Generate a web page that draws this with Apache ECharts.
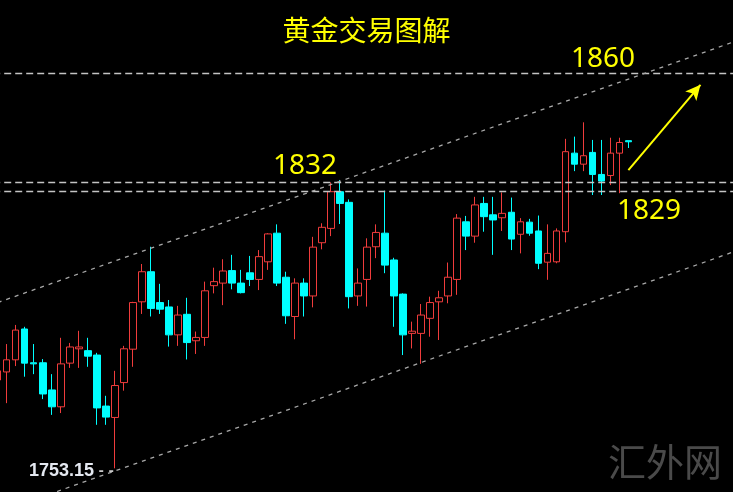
<!DOCTYPE html>
<html><head><meta charset="utf-8">
<script src="https://cdn.jsdelivr.net/npm/echarts@6/dist/echarts.min.js"></script>
<style>html,body{margin:0;padding:0;background:#000;}#c{width:733px;height:492px;}</style>
</head><body><div id="c"></div>
<script>
// ---- data ----
const categories = Array.from({length: 83}, (_, i) => 'K' + (i + 1));
const opens  = [1777.2,1779.4,1782.7,1791.1,1781.9,1781.9,1774.5,1769.9,1781.8,1785.7,1785.2,1784.0,1770.1,1767.0,1776.5,1785.6,1798.5,1806.7,1798.3,1797.1,1789.5,1795.1,1787.9,1788.8,1802.9,1803.6,1807.0,1803.6,1806.4,1804.6,1809.4,1817.2,1805.2,1794.5,1803.6,1800.1,1814.6,1818.5,1828.5,1825.6,1800.1,1804.6,1813.5,1817.2,1809.9,1800.6,1789.9,1789.9,1794.0,1798.5,1800.1,1804.6,1820.3,1816.4,1825.3,1822.2,1821.4,1822.9,1816.9,1820.2,1817.8,1809.3,1809.4,1817.6,1839.0,1836.0,1839.2,1833.2,1832.9,1839.0,1842.4];
const closes = [1779.7,1782.7,1790.8,1781.8,1781.6,1773.4,1769.9,1781.6,1786.2,1786.2,1783.7,1769.6,1767.1,1775.7,1785.7,1798.3,1806.7,1796.7,1796.5,1789.5,1794.9,1787.4,1788.8,1801.5,1804.0,1806.9,1803.6,1801.0,1804.6,1810.8,1817.0,1803.6,1794.7,1803.6,1800.1,1813.4,1818.8,1828.5,1825.3,1799.9,1803.6,1813.4,1817.4,1808.5,1800.1,1789.5,1790.5,1794.9,1798.3,1799.6,1805.2,1821.3,1816.4,1824.9,1821.7,1820.8,1822.6,1815.6,1820.3,1817.2,1809.0,1811.7,1817.8,1839.4,1836.0,1838.3,1833.2,1831.4,1839.0,1841.9,1842.1];
const lows   = [1775.8,1770.9,1781.0,1778.1,1778.8,1772.0,1767.7,1768.2,1780.5,1780.5,1780.8,1765.0,1765.0,1753.15,1774.3,1780.8,1795.2,1794.5,1795.2,1786.3,1786.5,1782.8,1784.3,1786.5,1800.8,1797.6,1801.9,1800.8,1802.8,1801.7,1807.2,1802.8,1792.5,1788.3,1794.5,1797.0,1812.8,1816.4,1819.7,1796.7,1797.4,1797.2,1810.4,1806.3,1791.7,1784.0,1785.8,1781.6,1789.0,1788.1,1798.1,1800.4,1812.6,1814.6,1817.6,1811.3,1817.8,1812.6,1811.7,1816.5,1807.4,1804.5,1809.0,1814.7,1834.1,1834.1,1827.6,1827.6,1830.3,1828.1,1840.4];
const highs  = [1781.3,1787.0,1792.2,1791.7,1787.0,1782.9,1778.8,1788.7,1787.3,1790.6,1788.7,1784.6,1772.9,1779.7,1786.5,1798.5,1808.8,1813.5,1803.4,1799.0,1797.4,1799.6,1790.4,1804.0,1807.8,1810.1,1811.3,1807.2,1811.0,1812.6,1817.2,1819.6,1806.7,1804.9,1804.9,1816.2,1819.9,1831.0,1831.7,1826.4,1807.6,1815.8,1819.6,1828.8,1810.5,1800.8,1793.1,1797.9,1799.9,1801.5,1809.2,1822.4,1821.9,1827.1,1827.1,1827.1,1828.3,1826.9,1821.3,1821.1,1822.0,1819.6,1818.5,1842.9,1843.5,1847.4,1842.6,1842.6,1843.2,1843.2,1842.4];
const levelValues = [1860.9, 1831.2, 1828.5];
const levelLabels = ['1860', '1832', '1829'];
const upperChannel = [[0, 1798.3], [82, 1869.6]];
const lowerChannel = [[0, 1741.1], [82, 1812.4]];
const arrowLine = [[70, 1834.4], [78, 1857.6]];
const lowLabel = '1753.15';
const titleText = '黄金交易图解';
const watermarkText = '汇外网';

// ---- chart ----
const candleData = opens.map((o, i) => [o, closes[i], lows[i], highs[i]]);
const RED = '#f03c3c', CYAN = '#00ffff', YEL = '#ffff00';
const chart = echarts.init(document.getElementById('c'));
const hDash = {color: '#c4c4c4', width: 1.4, type: [7, 4]};
const cDash = {color: '#a8a8a8', width: 1.3, type: [4, 5]};
const lowIdx = lows.indexOf(Math.min(...lows));
chart.setOption({
  backgroundColor: '#000',
  animation: false,
  grid: {left: -6.8, top: 0, width: 747.8, height: 560, containLabel: false, outerBoundsMode: 'none'},
  xAxis: {type: 'category', data: categories, show: false, boundaryGap: true},
  yAxis: {type: 'value', min: 1728.17, max: 1880.72, show: false, splitLine: {show: false}},
  series: [{
    type: 'candlestick',
    data: candleData,
    barWidth: 7,
    clip: false,
    itemStyle: {color: '#000', color0: CYAN, borderColor: RED, borderColor0: CYAN, borderWidth: 1},
    markLine: {
      silent: true, symbol: 'none', animation: false,
      label: {show: false},
      data: [
        ...levelValues.map(v => ({yAxis: v, lineStyle: hDash})),
        [{coord: upperChannel[0], lineStyle: cDash}, {coord: upperChannel[1]}],
        [{coord: lowerChannel[0], lineStyle: cDash}, {coord: lowerChannel[1]}],
        [{coord: arrowLine[0], symbol: 'none', lineStyle: {color: YEL, width: 2, type: 'solid'}},
         {coord: arrowLine[1], symbol: 'arrow', symbolSize: [11, 15]}]
      ]
    },
    markPoint: {
      silent: true, symbol: 'circle', symbolSize: 0,
      data: [{coord: [lowIdx, lows[lowIdx]], value: lowLabel}],
      label: {
        show: true, position: 'left', distance: 1, offset: [0, 3],
        formatter: p => '{a|' + p.value + '}{b| - -}',
        rich: {
          a: {color: '#e4e8f0', fontSize: 18, fontWeight: 'bold', fontFamily: 'Liberation Sans'},
          b: {color: '#c8c8c8', fontSize: 13, fontWeight: 'bold', fontFamily: 'DejaVu Sans'}
        }
      }
    }
  }],
  graphic: [
    {type: 'text', left: 'center', top: 16, style: {text: titleText, fill: YEL, font: '28px "Noto Sans CJK SC"'}},
    {type: 'text', x: 603, y: 59, style: {text: levelLabels[0], fill: YEL, font: '28px "Noto Sans"', align: 'center', verticalAlign: 'middle'}},
    {type: 'text', x: 305, y: 166, style: {text: levelLabels[1], fill: YEL, font: '28px "Noto Sans"', align: 'center', verticalAlign: 'middle'}},
    {type: 'text', x: 649, y: 211, style: {text: levelLabels[2], fill: YEL, font: '28px "Noto Sans"', align: 'center', verticalAlign: 'middle'}},
    {type: 'text', x: 665, y: 462, style: {text: watermarkText, fill: '#4a4a4a', font: '38px "Noto Sans CJK SC"', align: 'center', verticalAlign: 'middle'}}
  ]
});
</script></body></html>
